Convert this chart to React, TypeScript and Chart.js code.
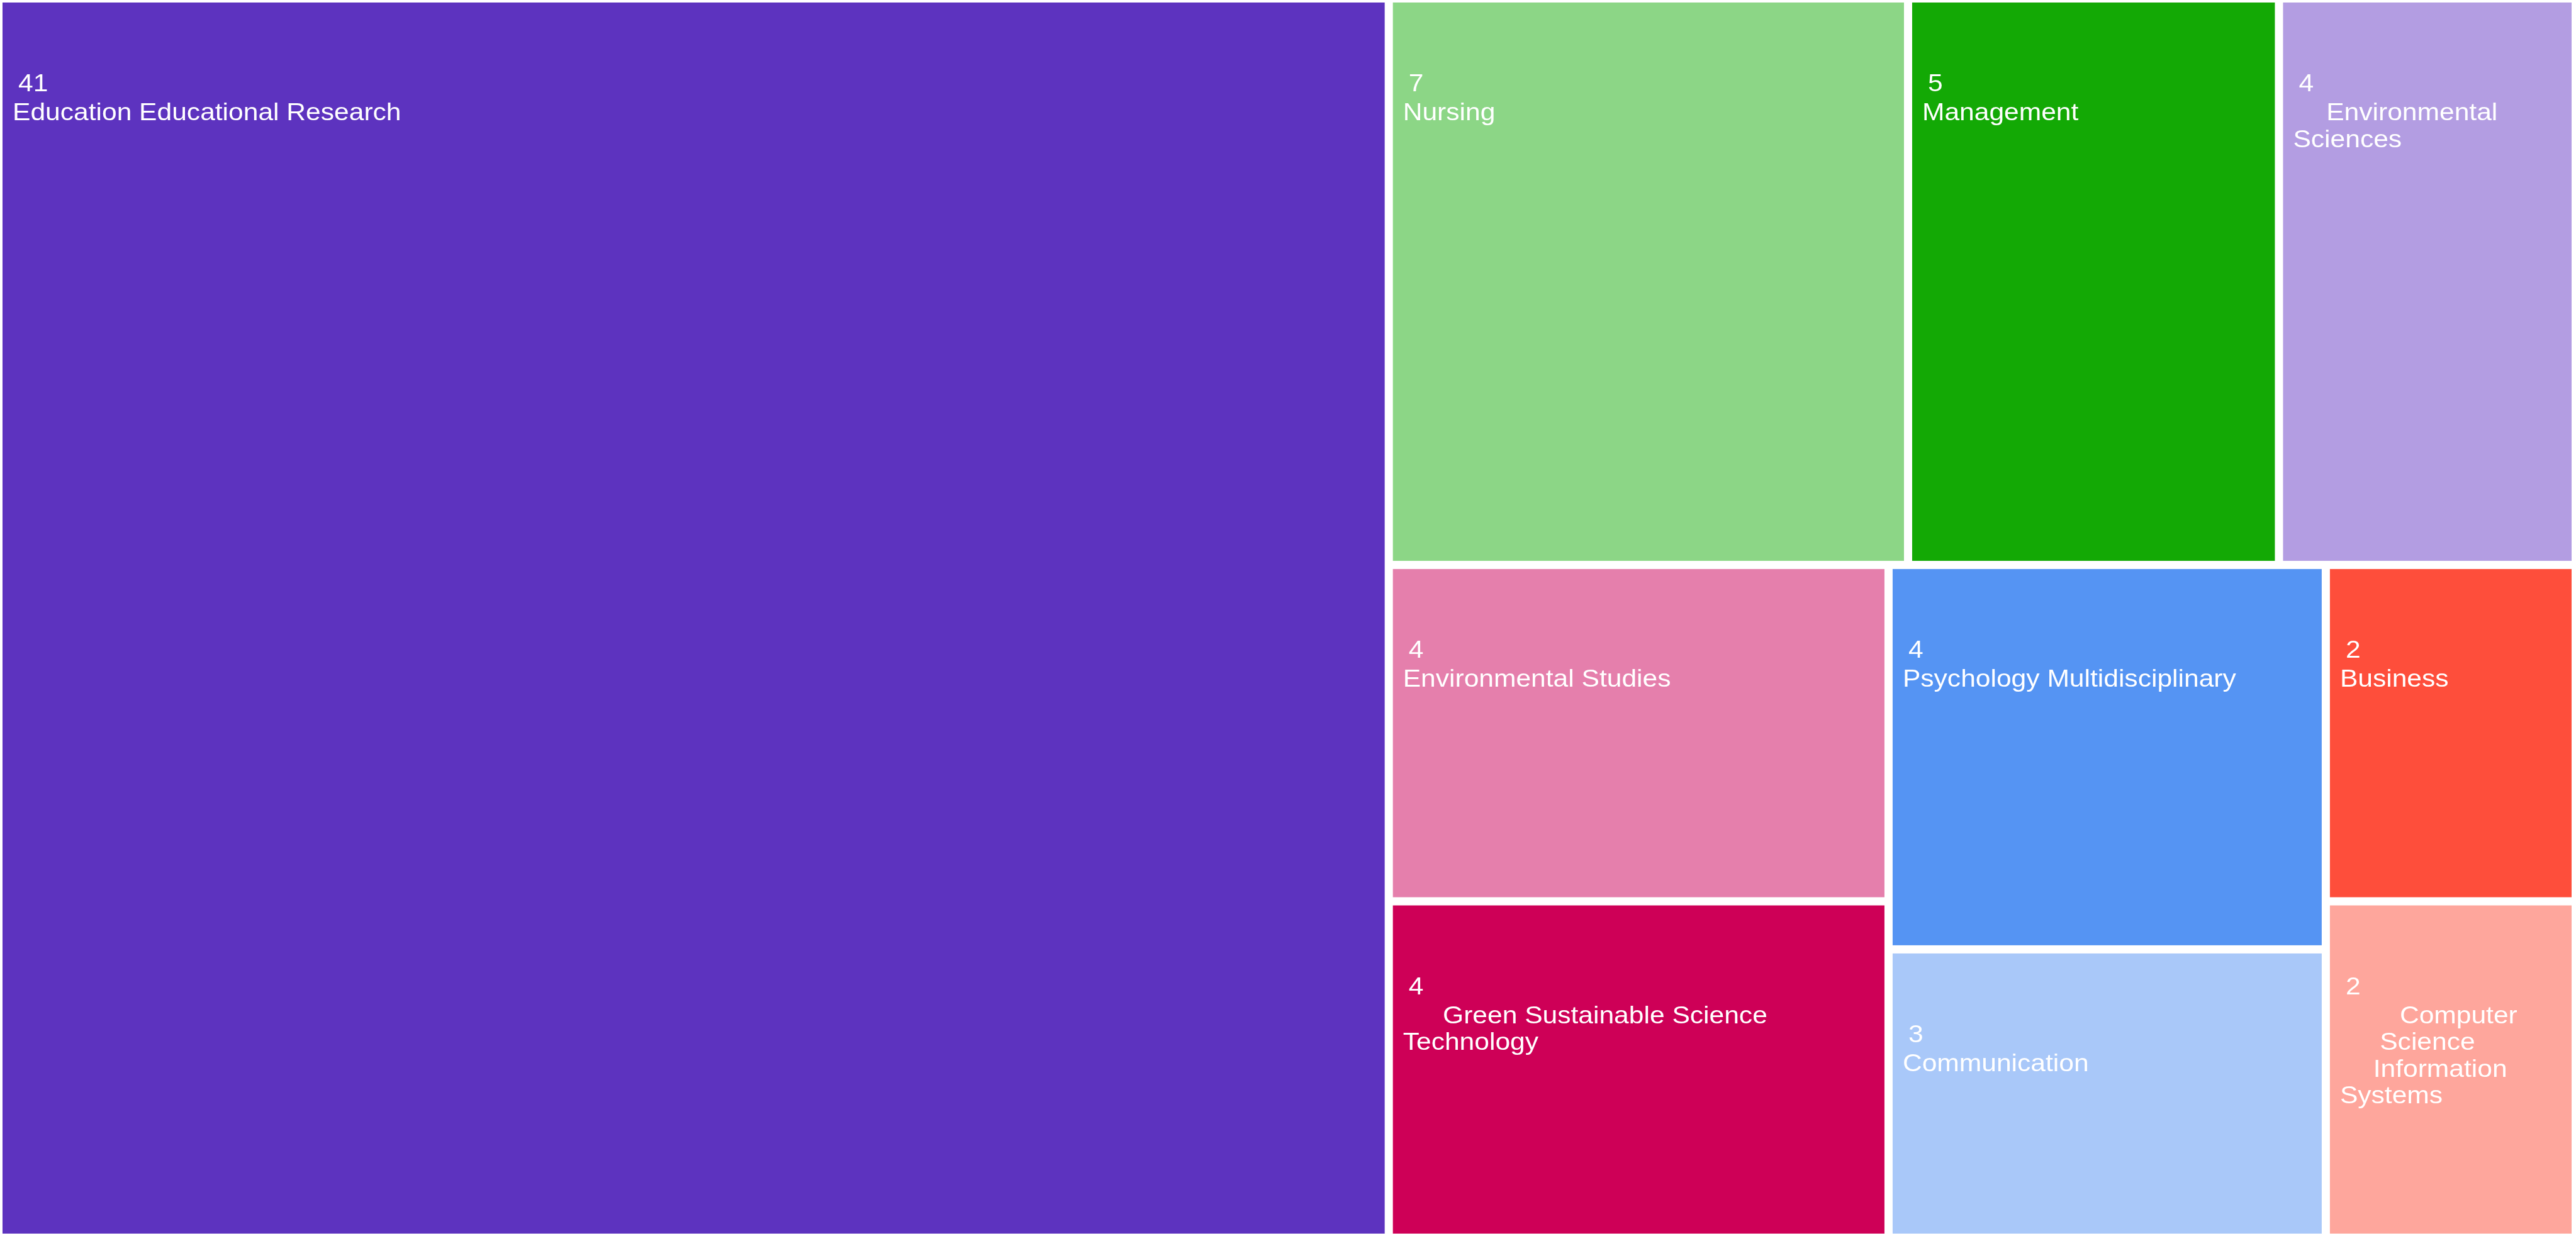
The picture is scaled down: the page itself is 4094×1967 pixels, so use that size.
import React, { useEffect, useRef } from "react";
import { Chart, registerables } from "chart.js";

Chart.register(...registerables);

// ---- Data ----
const CATEGORIES: string[] = [
  "Education Educational Research",
  "Nursing",
  "Management",
  "Environmental Sciences",
  "Environmental Studies",
  "Green Sustainable Science Technology",
  "Psychology Multidisciplinary",
  "Communication",
  "Business",
  "Computer Science Information Systems",
];

const VALUES: number[] = [41, 7, 5, 4, 4, 4, 4, 3, 2, 2];

// Labels exactly as they are wrapped in the reference
const LABEL_LINES: string[][] = [
  ["Education Educational Research"],
  ["Nursing"],
  ["Management"],
  ["     Environmental", "Sciences"],
  ["Environmental Studies"],
  ["      Green Sustainable Science", "Technology"],
  ["Psychology Multidisciplinary"],
  ["Communication"],
  ["Business"],
  ["         Computer", "      Science", "     Information", "Systems"],
];

const COLORS: string[] = [
  "#5D33BF",
  "#8CD686",
  "#13A905",
  "#B39DE2",
  "#E57FAC",
  "#CE0057",
  "#5594F3",
  "#A9C8F9",
  "#FE4E3B",
  "#FEA69C",
];

// ---- Geometry constants ----
const W = 4094;
const H = 1967;
const BOX = { x0: -2.5, y0: -2.5, x1: W - 0.5, y1: H - 0.5 };
const GAP = 13;
const FONT = '38px "Liberation Sans", Arial, Helvetica, sans-serif';
const TEXT_STRETCH = 1.12;
const TEXT_DX = 16;
const NUMBER_DX = 9;
const NUMBER_DY = 141;
const FIRST_LINE_DY = 46;
const LINE_DY = 42.5;

type Rect = { x0: number; y0: number; x1: number; y1: number };

// d3-style squarified treemap (golden ratio)
function squarify(values: number[], bx0: number, by0: number, bx1: number, by1: number): Rect[] {
  const ratio = (1 + Math.sqrt(5)) / 2;
  const rects: Rect[] = new Array(values.length);
  let x0 = bx0, y0 = by0;
  const x1 = bx1, y1 = by1;
  let value = values.reduce((a, b) => a + b, 0);
  const n = values.length;
  let i0 = 0, i1 = 0;
  while (i0 < n) {
    const dx = x1 - x0, dy = y1 - y0;
    let sumValue = values[i1++];
    let minValue = sumValue, maxValue = sumValue;
    const alpha = Math.max(dy / dx, dx / dy) / (value * ratio);
    let beta = sumValue * sumValue * alpha;
    let minRatio = Math.max(maxValue / beta, beta / minValue);
    for (; i1 < n; ++i1) {
      const nv = values[i1];
      sumValue += nv;
      if (nv < minValue) minValue = nv;
      if (nv > maxValue) maxValue = nv;
      beta = sumValue * sumValue * alpha;
      const newRatio = Math.max(maxValue / beta, beta / minValue);
      if (newRatio > minRatio) {
        sumValue -= nv;
        break;
      }
      minRatio = newRatio;
    }
    if (dx < dy) {
      const yb = y0 + (dy * sumValue) / value;
      let x = x0;
      const k = dx / sumValue;
      for (let i = i0; i < i1; i++) {
        const w = values[i] * k;
        rects[i] = { x0: x, x1: x + w, y0: y0, y1: yb };
        x += w;
      }
      y0 = yb;
    } else {
      const xb = x0 + (dx * sumValue) / value;
      let y = y0;
      const k = dy / sumValue;
      for (let i = i0; i < i1; i++) {
        const h = values[i] * k;
        rects[i] = { x0: x0, x1: xb, y0: y, y1: y + h };
        y += h;
      }
      x0 = xb;
    }
    value -= sumValue;
    i0 = i1;
  }
  return rects;
}

function drawStretched(ctx: CanvasRenderingContext2D, text: string, x: number, y: number) {
  const m = text.match(/^\s*/);
  const lead = m ? m[0] : "";
  const body = text.slice(lead.length);
  const indent = lead ? ctx.measureText(lead).width : 0;
  ctx.save();
  ctx.translate(x + indent, y);
  ctx.scale(TEXT_STRETCH, 1);
  ctx.fillText(body, 0, 0);
  ctx.restore();
}

const treemapPlugin = {
  id: "treemapTiles",
  afterDatasetsDraw(chart: any) {
    const ctx: CanvasRenderingContext2D = chart.ctx;
    const xs = chart.scales.x;
    const ys = chart.scales.y;
    const data = chart.data.datasets[0].data as any[];
    ctx.save();
    data.forEach((t: any) => {
      const left = xs.getPixelForValue(t.x0) + GAP / 2;
      const right = xs.getPixelForValue(t.x1) - GAP / 2;
      const top = ys.getPixelForValue(t.y0) + GAP / 2;
      const bottom = ys.getPixelForValue(t.y1) - GAP / 2;
      ctx.fillStyle = t.color;
      ctx.fillRect(left, top, right - left, bottom - top);

      ctx.fillStyle = "#FFFFFF";
      ctx.font = FONT;
      ctx.textAlign = "left";
      ctx.textBaseline = "alphabetic";
      let y = top + NUMBER_DY;
      drawStretched(ctx, String(t.value), left + TEXT_DX + NUMBER_DX, y);
      y += FIRST_LINE_DY;
      (t.lines as string[]).forEach((line: string, li: number) => {
        drawStretched(ctx, line, left + TEXT_DX, y + li * LINE_DY);
      });
    });
    ctx.restore();
  },
};

export default function App() {
  const ref = useRef<HTMLCanvasElement | null>(null);

  useEffect(() => {
    document.body.style.margin = "0";
    const canvas = ref.current;
    if (!canvas) return;
    const rects = squarify(VALUES, BOX.x0, BOX.y0, BOX.x1, BOX.y1);
    const points = rects.map((r, i) => ({
      x: (r.x0 + r.x1) / 2,
      y: (r.y0 + r.y1) / 2,
      x0: r.x0,
      x1: r.x1,
      y0: r.y0,
      y1: r.y1,
      value: VALUES[i],
      name: CATEGORIES[i],
      lines: LABEL_LINES[i],
      color: COLORS[i],
    }));

    const chart = new Chart(canvas, {
      type: "scatter",
      data: {
        datasets: [
          {
            label: "Categories",
            data: points as any,
            pointRadius: 0,
            pointHoverRadius: 0,
            backgroundColor: COLORS,
          },
        ],
      },
      options: {
        responsive: false,
        animation: false,
        devicePixelRatio: 1,
        events: [],
        layout: { padding: 0 },
        plugins: {
          legend: { display: false },
          tooltip: { enabled: false },
        },
        scales: {
          x: { type: "linear", min: 0, max: W, display: false },
          y: { type: "linear", min: 0, max: H, reverse: true, display: false },
        },
      },
      plugins: [treemapPlugin],
    });
    return () => chart.destroy();
  }, []);

  return (
    <div style={{ width: W, height: H, background: "#FFFFFF" }}>
      <canvas ref={ref} width={W} height={H} style={{ display: "block" }} />
    </div>
  );
}
